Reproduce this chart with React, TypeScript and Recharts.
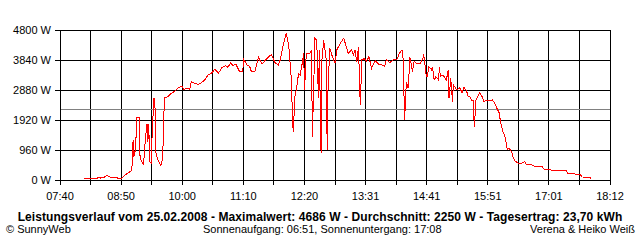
import React from 'react'
import { LineChart, Line, XAxis, YAxis, CartesianGrid, ReferenceLine } from 'recharts'

// measured samples (time of day, watts)
const times = [
  '08:08', '08:22', '08:24', '08:27', '08:31', '08:34', '08:36', '08:39', '08:42', '08:46',
  '08:51', '08:55', '08:58', '09:02', '09:03', '09:04', '09:05', '09:07', '09:08', '09:11',
  '09:12', '09:14', '09:16', '09:18', '09:20', '09:21', '09:22', '09:23', '09:25', '09:26',
  '09:28', '09:29', '09:30', '09:32', '09:34', '09:36', '09:38', '09:39', '09:40', '09:41',
  '09:44', '09:48', '09:52', '09:56', '10:00', '10:02', '10:06', '10:09', '10:11', '10:15',
  '10:19', '10:23', '10:27', '10:30', '10:34', '10:38', '10:42', '10:46', '10:50', '10:53',
  '10:56', '10:59', '11:02', '11:06', '11:10', '11:11', '11:15', '11:18', '11:20', '11:24',
  '11:28', '11:32', '11:38', '11:43', '11:47', '11:51', '11:53', '11:57', '12:00', '12:03',
  '12:06', '12:07', '12:08', '12:10', '12:13', '12:14', '12:16', '12:18', '12:20', '12:21',
  '12:23', '12:27', '12:29', '12:30', '12:33', '12:35', '12:37', '12:38', '12:40', '12:41',
  '12:43', '12:46', '12:47', '12:48', '12:50', '12:53', '12:56', '12:58', '13:02', '13:06',
  '13:09', '13:11', '13:15', '13:17', '13:19', '13:21', '13:23', '13:24', '13:25', '13:26',
  '13:27', '13:30', '13:32', '13:35', '13:38', '13:42', '13:46', '13:50', '13:53', '13:55',
  '13:59', '14:03', '14:07', '14:10', '14:13', '14:14', '14:15', '14:16', '14:18', '14:20',
  '14:21', '14:22', '14:25', '14:27', '14:30', '14:34', '14:37', '14:38', '14:41', '14:42',
  '14:44', '14:47', '14:48', '14:50', '14:52', '14:55', '14:56', '14:57', '15:00', '15:04',
  '15:06', '15:07', '15:09', '15:11', '15:12', '15:14', '15:16', '15:19', '15:22', '15:24',
  '15:27', '15:29', '15:31', '15:33', '15:35', '15:36', '15:37', '15:38', '15:40', '15:42',
  '15:45', '15:47', '15:50', '15:54', '15:57', '16:00', '16:02', '16:05', '16:06', '16:09',
  '16:11', '16:12', '16:14', '16:16', '16:19', '16:21', '16:23', '16:27', '16:30', '16:34',
  '16:36', '16:42', '16:46', '16:54', '16:56', '17:03', '17:05', '17:11', '17:22', '17:23',
  '17:30', '17:32', '17:38', '17:40', '17:49', '17:50',
]

const watts = [
  40, 40, 86, 60, 90, 150, 110, 70, 90, 64,
  64, 170, 213, 300, 480, 1280, 750, 1020, 2016, 2016,
  700, 600, 480, 1280, 1790, 1226, 1790, 590, 530, 1620,
  2613, 2613, 906, 693, 560, 458, 720, 1760, 2613, 2645,
  2666, 2773, 2848, 2954, 3008, 2901, 2930, 2901, 3146, 3093,
  3060, 3125, 3221, 3360, 3413, 3552, 3413, 3594, 3658, 3605,
  3754, 3658, 3712, 3488, 3488, 3861, 3680, 3626, 3466, 3490,
  3925, 3712, 3893, 4021, 3754, 3680, 3840, 4373, 4686, 4266,
  3146, 2080, 1546, 2666, 3146, 3413, 3360, 3680, 4053, 2880,
  4053, 4053, 4160, 1386, 4533, 4480, 2613, 4160, 853, 3840,
  4480, 3840, 960, 2933, 4213, 3946, 3733, 4160, 4373, 4533,
  4266, 4053, 4160, 4000, 4160, 3786, 4266, 3360, 2400, 3146,
  3861, 3880, 3786, 3946, 3573, 3820, 3712, 3680, 3640, 3840,
  3760, 3840, 3850, 4053, 4160, 4053, 3040, 1920, 3146, 2933,
  3360, 3946, 3466, 3808, 3712, 3740, 3893, 4021, 3306, 3306,
  3626, 3520, 3626, 3200, 3306, 3200, 3626, 3306, 3360, 3200,
  3520, 2613, 3250, 2506, 3040, 2966, 2880, 2966, 2794, 2966,
  2860, 2688, 2666, 2560, 2560, 1706, 2080, 2560, 2666, 2794,
  2666, 2506, 2560, 2540, 2560, 2432, 2293, 2133, 1866, 1546,
  1440, 1280, 981, 1013, 906, 693, 608, 533, 533, 586,
  490, 480, 426, 426, 352, 340, 310, 310, 300, 224,
  224, 181, 170, 96, 90, 30,
]

const timeLabels = ['07:40', '08:50', '10:00', '11:10', '12:20', '13:31', '14:41', '15:51', '17:01', '18:12']
const wattTicks = [0, 960, 1920, 2880, 3840, 4800]
const average = 2250

const title = 'Leistungsverlauf vom 25.02.2008 - Maximalwert: 4686 W - Durchschnitt: 2250 W - Tagesertrag: 23,70 kWh'
const footerLeft = '\u00a9 SunnyWeb'
const footerMid = 'Sonnenaufgang: 06:51, Sonnenuntergang: 17:08'
const footerRight = 'Verena & Heiko Wei\u00df'

const toMin = (s: string) => {
  const [h, m] = s.split(':').map(Number)
  return h * 60 + m
}

const data = times.map((t, i) => ({ t: toMin(t), w: watts[i] }))

const start = toMin(timeLabels[0])
const end = toMin(timeLabels[timeLabels.length - 1])
// grid every half label step
const xTicks = Array.from({ length: timeLabels.length * 2 - 1 }, (_, i) => start + (i * (end - start)) / ((timeLabels.length - 1) * 2))

const font = '"Liberation Sans", Arial, sans-serif'
const footerStyle: React.CSSProperties = { position: 'absolute', top: 224, fontSize: 11, lineHeight: '11px', whiteSpace: 'nowrap' }

export default function App() {
  return (
    <div style={{ position: 'absolute', left: 0, top: 0, width: 640, height: 240, background: '#fff', fontFamily: font }}>
      <style>{`
        .recharts-cartesian-grid line,
        .recharts-cartesian-axis-line,
        .recharts-cartesian-axis-tick-line,
        .recharts-reference-line line,
        .recharts-line-curve { shape-rendering: crispEdges; }
      `}</style>
      <LineChart width={640} height={240} data={data} margin={{ top: 30, right: 30, left: 0, bottom: 0 }}>
        <CartesianGrid stroke="#000" strokeWidth={1} />
        <XAxis
          dataKey="t"
          type="number"
          domain={[start, end]}
          ticks={xTicks}
          interval={0}
          height={60}
          stroke="#000"
          tickSize={5}
          tickMargin={7}
          tick={{ fill: '#000', fontSize: 11, fontFamily: font }}
          tickFormatter={(v: number) => {
            const i = xTicks.indexOf(v)
            return i % 2 === 0 ? timeLabels[i / 2] : ''
          }}
        />
        <YAxis
          type="number"
          domain={[0, 4800]}
          ticks={wattTicks}
          interval={0}
          width={60}
          stroke="#000"
          tickSize={5}
          tickMargin={4}
          tick={{ fill: '#000', fontSize: 11, fontFamily: font }}
          tickFormatter={(v: number) => `${v} W`}
        />
        <ReferenceLine y={average} stroke="#808080" strokeWidth={1} />
        <Line
          type="linear"
          dataKey="w"
          stroke="#ff0000"
          strokeWidth={1}
          dot={false}
          isAnimationActive={false}
        />
      </LineChart>
      <div style={{ position: 'absolute', left: 0, top: 211, width: 640, textAlign: 'center', fontSize: 12, fontWeight: 'bold', lineHeight: '12px', letterSpacing: '0.08px', whiteSpace: 'nowrap' }}>
        {title}
      </div>
      <div style={{ ...footerStyle, left: 6 }}>{footerLeft}</div>
      <div style={{ ...footerStyle, left: 203 }}>{footerMid}</div>
      <div style={{ ...footerStyle, right: 5 }}>{footerRight}</div>
    </div>
  )
}
